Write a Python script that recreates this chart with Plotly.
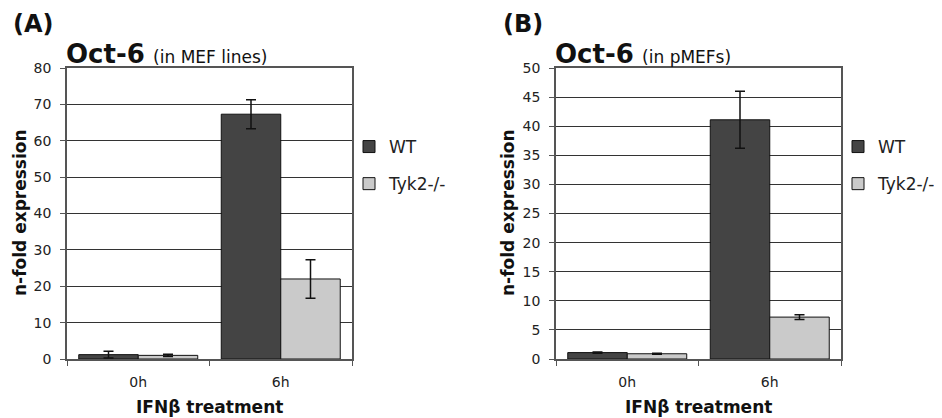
import plotly.graph_objects as go

categories = ["0h", "6h"]
series_names = ["WT", "Tyk2-/-"]

# Panel A: Oct-6 in MEF lines
a_wt = [1.2, 67.3]
a_wt_err = [0.9, 4.0]
a_tyk = [1.0, 22.0]
a_tyk_err = [0.3, 5.3]

# Panel B: Oct-6 in pMEFs
b_wt = [1.1, 41.1]
b_wt_err = [0.1, 4.9]
b_tyk = [0.9, 7.2]
b_tyk_err = [0.1, 0.4]

a_ticks = [0, 10, 20, 30, 40, 50, 60, 70, 80]
b_ticks = [0, 5, 10, 15, 20, 25, 30, 35, 40, 45, 50]

WT_COLOR = "#444444"
TYK_COLOR = "#cacaca"
FONT = "DejaVu Sans"
TXT = "#222222"

# page body has an 8px default margin; the figure is sized to fill the rest
OFF = 8
W, H = 942 - OFF, 418 - OFF


def px_x(p):
    return (p - OFF) / W


def px_y(p):
    return (H - (p - OFF)) / H


fig = go.Figure()


def add_bars(vals, errs, name, color, xa, ya, legend, group):
    fig.add_trace(go.Bar(
        x=categories, y=vals, name=name,
        marker=dict(color=color, line=dict(color="#111111", width=1)),
        error_y=dict(type="data", array=errs, visible=True, color="#111111",
                     thickness=1.5, width=5),
        xaxis=xa, yaxis=ya, legend=legend, legendgroup=group,
    ))


add_bars(a_wt, a_wt_err, series_names[0], WT_COLOR, "x", "y", "legend", "a1")
add_bars(a_tyk, a_tyk_err, series_names[1], TYK_COLOR, "x", "y", "legend", "a2")
add_bars(b_wt, b_wt_err, series_names[0], WT_COLOR, "x2", "y2", "legend2", "b1")
add_bars(b_tyk, b_tyk_err, series_names[1], TYK_COLOR, "x2", "y2", "legend2", "b2")

ydom = [px_y(359), px_y(68)]
xa_common = dict(
    type="category", showline=True, linecolor="#555555", linewidth=1.5, mirror=True,
    ticks="outside", tickson="boundaries", ticklen=5, tickcolor="#555555",
    tickfont=dict(family=FONT, size=14, color=TXT), showgrid=False,
    ticklabelstandoff=9, automargin=False,
)
ya_common = dict(
    showline=True, linecolor="#555555", linewidth=1.5, mirror=True,
    ticks="outside", ticklen=5, tickcolor="#555555",
    tickfont=dict(family=FONT, size=14, color=TXT),
    showgrid=True, gridcolor="#333333", gridwidth=1.3, zeroline=False,
    ticklabelstandoff=6, automargin=False,
)

legend_common = dict(
    font=dict(family=FONT, size=17, color=TXT), bgcolor="rgba(0,0,0,0)",
    traceorder="grouped", tracegroupgap=12, xanchor="left", yanchor="top",
    itemwidth=30,
)

fig.update_layout(
    width=W, height=H, margin=dict(l=0, r=0, t=0, b=0, autoexpand=False),
    paper_bgcolor="white", plot_bgcolor="white",
    barmode="group", bargap=0.165, bargroupgap=0,
    xaxis=dict(domain=[px_x(67), px_x(352)], anchor="y", **xa_common),
    yaxis=dict(domain=ydom, anchor="x", range=[0, 80], tickvals=a_ticks, **ya_common),
    xaxis2=dict(domain=[px_x(556), px_x(841)], anchor="y2", **xa_common),
    yaxis2=dict(domain=ydom, anchor="x2", range=[0, 50], tickvals=b_ticks, **ya_common),
    legend=dict(x=px_x(349), y=px_y(129), **legend_common),
    legend2=dict(x=px_x(838), y=px_y(129), **legend_common),
    showlegend=True,
)

annotations = [
    dict(text="<b>(A)</b>", x=px_x(11), y=px_y(24), xanchor="left", yanchor="middle",
         font=dict(family=FONT, size=24, color="#111111")),
    dict(text="<b>(B)</b>", x=px_x(501), y=px_y(24), xanchor="left", yanchor="middle",
         font=dict(family=FONT, size=24, color="#111111")),
    dict(text="<b>Oct-6</b> <span style='font-size:17px'>(in MEF lines)</span>",
         x=px_x(64), y=px_y(54), xanchor="left", yanchor="middle",
         font=dict(family=FONT, size=26, color="#111111")),
    dict(text="<b>Oct-6</b> <span style='font-size:17px'>(in pMEFs)</span>",
         x=px_x(553), y=px_y(54), xanchor="left", yanchor="middle",
         font=dict(family=FONT, size=26, color="#111111")),
    dict(text="<b>n-fold expression</b>", x=px_x(20), y=px_y(213), textangle=-90,
         xanchor="center", yanchor="middle", font=dict(family=FONT, size=17, color="#111111")),
    dict(text="<b>n-fold expression</b>", x=px_x(508), y=px_y(213), textangle=-90,
         xanchor="center", yanchor="middle", font=dict(family=FONT, size=17, color="#111111")),
    dict(text="<b>IFNβ treatment</b>", x=px_x(209), y=px_y(407),
         xanchor="center", yanchor="middle", font=dict(family=FONT, size=17, color="#111111")),
    dict(text="<b>IFNβ treatment</b>", x=px_x(698), y=px_y(407),
         xanchor="center", yanchor="middle", font=dict(family=FONT, size=17, color="#111111")),
]
for a in annotations:
    a.update(xref="paper", yref="paper", showarrow=False)
fig.update_layout(annotations=annotations)

fig.write_html("out.html")
